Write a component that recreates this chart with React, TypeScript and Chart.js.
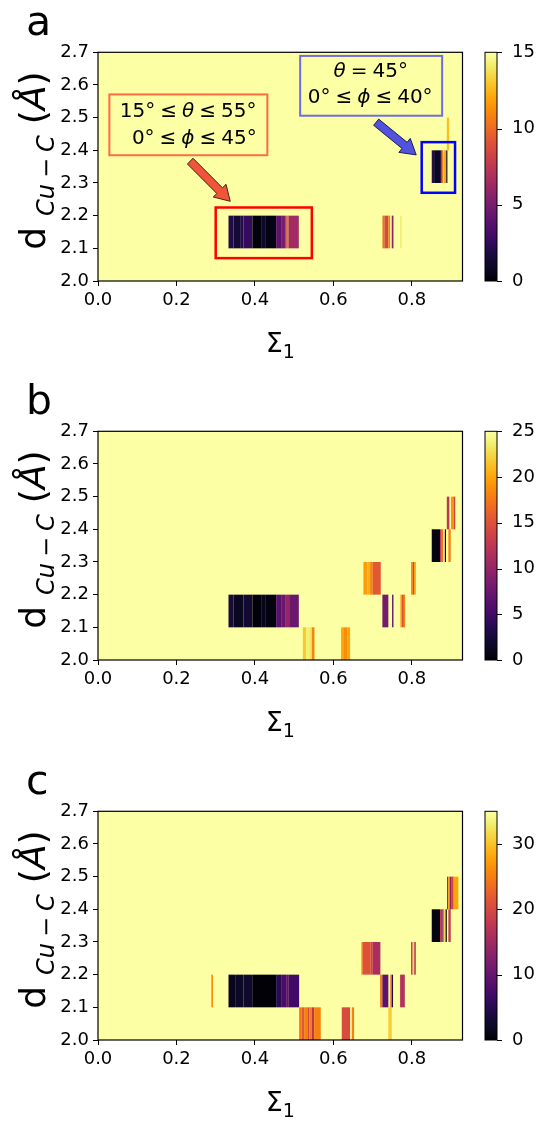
import React, { useEffect, useRef } from "react";
import { Chart, registerables } from "chart.js";
Chart.register(...registerables);

const FONT = '"DejaVu Sans", sans-serif';

// axes
const X_TICKS = [0, 0.2, 0.4, 0.6, 0.8];
const Y_TICKS = [2.0, 2.1, 2.2, 2.3, 2.4, 2.5, 2.6, 2.7];
const X_MIN = 0;
const X_MAX = 0.929;
const Y_MIN = 2.0;
const Y_MAX = 2.7;
const ROW_H = 0.1;

// heat-map cells: [x start, x end, row start (d Cu-C), value]
type Cell = [number, number, number, number];

const CELLS_A: Cell[] = [
  [0.3326, 0.3453, 2.1, 2.0], [0.3453, 0.3623, 2.1, 1.4], [0.3623, 0.3708, 2.1, 2.1],
  [0.3708, 0.3937, 2.1, 2.6], [0.3937, 0.4176, 2.1, 0.2], [0.4176, 0.426, 2.1, 1.0],
  [0.426, 0.454, 2.1, 0.4], [0.454, 0.4685, 2.1, 4.0], [0.4685, 0.477, 2.1, 5.1],
  [0.477, 0.481, 2.1, 6.9], [0.481, 0.4854, 2.1, 10.4], [0.4854, 0.5118, 2.1, 6.5],
  [0.725, 0.73, 2.1, 10.2], [0.73, 0.74, 2.1, 8.6], [0.74, 0.7445, 2.1, 10.8],
  [0.7487, 0.753, 2.1, 5.7], [0.77, 0.774, 2.1, 14.2],
  [0.8506, 0.8566, 2.3, 2.2], [0.8566, 0.8718, 2.3, 0.8], [0.8718, 0.876, 2.3, 1.8],
  [0.876, 0.88, 2.3, 10.5], [0.88, 0.882, 2.3, 13.5], [0.882, 0.887, 2.3, 12.0],
  [0.8875, 0.8905, 2.3, 0.8],
  [0.889, 0.895, 2.4, 12.8],
];
const CB_MAX_A = 15;
const CB_TICKS_A = [0, 5, 10, 15];

const CELLS_B: Cell[] = [
  [0.522, 0.5305, 2.0, 21.8], [0.5305, 0.539, 2.0, 23.8], [0.539, 0.545, 2.0, 23.2],
  [0.545, 0.5517, 2.0, 18.2], [0.6196, 0.627, 2.0, 20.0], [0.627, 0.635, 2.0, 18.8],
  [0.635, 0.6425, 2.0, 20.0],
  [0.3326, 0.3453, 2.1, 2.5], [0.3453, 0.3708, 2.1, 1.2], [0.3708, 0.3937, 2.1, 2.2],
  [0.3937, 0.4176, 2.1, 0.2], [0.4176, 0.426, 2.1, 1.0], [0.426, 0.454, 2.1, 0.5],
  [0.454, 0.4685, 2.1, 6.5], [0.4685, 0.4787, 2.1, 7.5], [0.4787, 0.4871, 2.1, 10.2],
  [0.4871, 0.5118, 2.1, 7.5], [0.7248, 0.74, 2.1, 8.2], [0.7496, 0.753, 2.1, 6.0],
  [0.7707, 0.7745, 2.1, 19.5], [0.7745, 0.7795, 2.1, 15.0], [0.7795, 0.7827, 2.1, 18.0],
  [0.6765, 0.6866, 2.2, 19.5], [0.6866, 0.6935, 2.2, 20.5], [0.6935, 0.7003, 2.2, 18.0],
  [0.7003, 0.7207, 2.2, 15.5], [0.798, 0.8023, 2.2, 18.0], [0.8023, 0.8056, 2.2, 13.8],
  [0.8056, 0.81, 2.2, 19.5],
  [0.8506, 0.8718, 2.3, 0.5], [0.8718, 0.876, 2.3, 12.5], [0.876, 0.88, 2.3, 17.0],
  [0.88, 0.884, 2.3, 23.8], [0.884, 0.887, 2.3, 1.2], [0.893, 0.899, 2.3, 18.0],
  [0.889, 0.8955, 2.4, 12.5], [0.8997, 0.9065, 2.4, 19.2], [0.9065, 0.9105, 2.4, 13.8],
];
const CB_MAX_B = 25;
const CB_TICKS_B = [0, 5, 10, 15, 20, 25];

const CELLS_C: Cell[] = [
  [0.5126, 0.5194, 2.0, 24.5], [0.5194, 0.5253, 2.0, 21.7], [0.5253, 0.5338, 2.0, 25.2],
  [0.5338, 0.539, 2.0, 20.0], [0.539, 0.5449, 2.0, 24.5], [0.5449, 0.5508, 2.0, 17.5],
  [0.5508, 0.5678, 2.0, 25.2], [0.6213, 0.6425, 2.0, 20.3], [0.6468, 0.6527, 2.0, 25.2],
  [0.74, 0.7487, 2.0, 30.8],
  [0.2889, 0.2931, 2.1, 26.2], [0.3326, 0.3496, 2.1, 1.4], [0.3496, 0.3708, 2.1, 2.1],
  [0.3708, 0.3946, 2.1, 2.5], [0.3946, 0.454, 2.1, 0.2], [0.454, 0.4685, 2.1, 5.2],
  [0.4685, 0.4795, 2.1, 7.7], [0.4795, 0.4863, 2.1, 9.8], [0.4863, 0.5126, 2.1, 7.0],
  [0.719, 0.7248, 2.1, 24.5], [0.7248, 0.74, 2.1, 9.5], [0.745, 0.7487, 2.1, 23.8],
  [0.7487, 0.752, 2.1, 4.2], [0.77, 0.782, 2.1, 16.5],
  [0.6714, 0.6748, 2.2, 24.5], [0.6748, 0.6952, 2.2, 21.0], [0.6952, 0.7003, 2.2, 19.2],
  [0.7003, 0.7197, 2.2, 15.8], [0.798, 0.802, 2.2, 17.5], [0.802, 0.806, 2.2, 31.5],
  [0.806, 0.81, 2.2, 17.5],
  [0.8506, 0.8718, 2.3, 0.7], [0.8718, 0.8777, 2.3, 17.5], [0.8777, 0.881, 2.3, 10.5],
  [0.881, 0.886, 2.3, 31.5], [0.886, 0.889, 2.3, 0.0], [0.893, 0.899, 2.3, 18.2],
  [0.8897, 0.8925, 2.4, 12.2], [0.8925, 0.8962, 2.4, 27.3], [0.8962, 0.9015, 2.4, 13.3],
  [0.9015, 0.9065, 2.4, 19.2], [0.9065, 0.9185, 2.4, 28.0],
];
const CB_MAX_C = 35;
const CB_TICKS_C = [0, 10, 20, 30];

// panel (a) annotations, data coordinates
const RECT_RED = [0.30, 2.07, 0.545, 2.225];
const RECT_BLUE = [0.825, 2.27, 0.91, 2.425];
const ARROW_RED = [0.235, 2.367, 0.337, 2.244];
const ARROW_BLUE = [0.709, 2.486, 0.811, 2.386];
const NOTE_RED_AT = [0.2303, 2.478];
const NOTE_BLUE_AT = [0.6962, 2.5974];

// inferno colormap
const INFERNO: number[][] = [
  [0, 0, 4], [10, 7, 34], [22, 11, 57], [40, 11, 84], [66, 10, 104], [86, 15, 109],
  [106, 23, 110], [126, 31, 108], [147, 38, 103], [168, 46, 95], [188, 55, 84],
  [206, 68, 70], [221, 81, 58], [234, 99, 42], [243, 120, 25], [249, 142, 9],
  [252, 165, 10], [250, 190, 36], [246, 215, 70], [242, 240, 116], [252, 255, 164],
];
function inferno(t: number): string {
  const c = Math.max(0, Math.min(1, t)) * (INFERNO.length - 1);
  const i = Math.min(INFERNO.length - 2, Math.floor(c));
  const f = c - i;
  const a = INFERNO[i], b = INFERNO[i + 1];
  const m = (k: number) => Math.round(a[k] + (b[k] - a[k]) * f);
  return `rgb(${m(0)},${m(1)},${m(2)})`;
}

type Run = { t?: string; gap?: number; size: number; italic?: boolean; dy?: number };
const fontOf = (r: Run) => `${r.italic ? "italic " : ""}${r.size}px ${FONT}`;
function runW(ctx: CanvasRenderingContext2D, r: Run) {
  if (r.gap) return r.gap;
  ctx.font = fontOf(r);
  return ctx.measureText(r.t || "").width;
}
function drawRuns(ctx: CanvasRenderingContext2D, runs: Run[], x: number, y: number, align: string) {
  const total = runs.reduce((s, r) => s + runW(ctx, r), 0);
  let cx = align === "center" ? x - total / 2 : align === "right" ? x - total : x;
  ctx.textAlign = "left";
  ctx.textBaseline = "alphabetic";
  for (const r of runs) {
    const w = runW(ctx, r);
    if (r.t) {
      ctx.font = fontOf(r);
      ctx.fillText(r.t, cx, y + (r.dy || 0));
    }
    cx += w;
  }
}

const MS = 20;
const G = 5;
const LINE_RED_1: Run[] = [
  { t: "15°", size: MS }, { gap: G, size: MS }, { t: "≤", size: MS }, { gap: G, size: MS },
  { t: "θ", size: MS, italic: true }, { gap: G, size: MS }, { t: "≤", size: MS }, { gap: G, size: MS },
  { t: "55°", size: MS },
];
const LINE_RED_2: Run[] = [
  { t: "0°", size: MS }, { gap: G, size: MS }, { t: "≤", size: MS }, { gap: G, size: MS },
  { t: "ϕ", size: MS, italic: true }, { gap: G, size: MS }, { t: "≤", size: MS }, { gap: G, size: MS },
  { t: "45°", size: MS },
];
const LINE_BLUE_1: Run[] = [
  { t: "θ", size: MS, italic: true }, { gap: G, size: MS }, { t: "=", size: MS }, { gap: G, size: MS },
  { t: "45°", size: MS },
];
const LINE_BLUE_2: Run[] = [
  { t: "0°", size: MS }, { gap: G, size: MS }, { t: "≤", size: MS }, { gap: G, size: MS },
  { t: "ϕ", size: MS, italic: true }, { gap: G, size: MS }, { t: "≤", size: MS }, { gap: G, size: MS },
  { t: "40°", size: MS },
];

const YF = 36;
const YS = 24;
const Y_LABEL: Run[] = [
  { t: "d", size: YF }, { gap: 11, size: YF },
  { t: "Cu", size: YS, italic: true, dy: 9 }, { gap: 6, size: YS },
  { t: "−", size: YS, dy: 9 }, { gap: 6, size: YS },
  { t: "C", size: YS, italic: true, dy: 9 }, { gap: 11, size: YF },
  { t: "(", size: YF }, { t: "Å", size: YF, italic: true }, { t: ")", size: YF },
];
const X_LABEL: Run[] = [{ t: "Σ", size: 27 }, { t: "1", size: 19, dy: 6 }];

function drawArrow(ctx: CanvasRenderingContext2D, x0: number, y0: number, x1: number, y1: number, fill: string, edge: string) {
  const dx = x1 - x0, dy = y1 - y0;
  const L = Math.hypot(dx, dy);
  const ux = dx / L, uy = dy / L;
  const nx = -uy, ny = ux;
  const w = 4, hw = 9, hl = 15;
  const bx = x1 - ux * hl, by = y1 - uy * hl;
  ctx.beginPath();
  ctx.moveTo(x0 + nx * w, y0 + ny * w);
  ctx.lineTo(bx + nx * w, by + ny * w);
  ctx.lineTo(bx + nx * hw, by + ny * hw);
  ctx.lineTo(x1, y1);
  ctx.lineTo(bx - nx * hw, by - ny * hw);
  ctx.lineTo(bx - nx * w, by - ny * w);
  ctx.lineTo(x0 - nx * w, y0 - ny * w);
  ctx.closePath();
  ctx.fillStyle = fill;
  ctx.fill();
  ctx.strokeStyle = edge;
  ctx.lineWidth = 1;
  ctx.stroke();
}

type PanelCfg = {
  cells: Cell[];
  cbMax: number;
  cbTicks: number[];
  letter: string;
  notes: boolean;
  height: number;
  top: number;
};

function makePlugin(cfg: PanelCfg) {
  return {
    id: "heat",
    beforeDatasetsDraw(chart: any) {
      const { ctx, chartArea: a } = chart;
      const x = chart.scales.x, y = chart.scales.y;
      ctx.save();
      ctx.fillStyle = inferno(1);
      ctx.fillRect(a.left, a.top, a.right - a.left, a.bottom - a.top);
      for (const [x0, x1, r, v] of cfg.cells) {
        const px0 = x.getPixelForValue(x0), px1 = x.getPixelForValue(x1);
        const py0 = y.getPixelForValue(r + ROW_H), py1 = y.getPixelForValue(r);
        ctx.fillStyle = inferno(v / cfg.cbMax);
        ctx.fillRect(px0, py0, px1 - px0, py1 - py0);
      }
      ctx.restore();
    },
    afterDraw(chart: any) {
      const { ctx, chartArea: a } = chart;
      const x = chart.scales.x, y = chart.scales.y, cb = chart.scales.cb;
      ctx.save();
      // spines
      ctx.strokeStyle = "#000";
      ctx.lineWidth = 1.2;
      ctx.strokeRect(a.left, a.top, a.right - a.left, a.bottom - a.top);

      // colorbar
      const cbL = a.right + 22.5, cbW = 12;
      const cTop = cb.getPixelForValue(cfg.cbMax), cBot = cb.getPixelForValue(0);
      const grad = ctx.createLinearGradient(0, cBot, 0, cTop);
      for (let i = 0; i <= 40; i++) grad.addColorStop(i / 40, inferno(i / 40));
      ctx.fillStyle = grad;
      ctx.fillRect(cbL, cTop, cbW, cBot - cTop);
      ctx.lineWidth = 1;
      ctx.strokeRect(cbL, cTop, cbW, cBot - cTop);
      for (const t of cfg.cbTicks) {
        const py = Math.round(cb.getPixelForValue(t)) + 0.5;
        ctx.beginPath();
        ctx.moveTo(cbL + cbW, py);
        ctx.lineTo(cbL + cbW + 5, py);
        ctx.stroke();
      }

      if (cfg.notes) {
        const P = (vx: number, vy: number) => [x.getPixelForValue(vx), y.getPixelForValue(vy)];
        // highlight rectangles
        ctx.lineWidth = 2.5;
        let p0 = P(RECT_RED[0], RECT_RED[1]), p1 = P(RECT_RED[2], RECT_RED[3]);
        ctx.strokeStyle = "#ff0000";
        ctx.strokeRect(p0[0], p1[1], p1[0] - p0[0], p0[1] - p1[1]);
        p0 = P(RECT_BLUE[0], RECT_BLUE[1]); p1 = P(RECT_BLUE[2], RECT_BLUE[3]);
        ctx.strokeStyle = "#0000ff";
        ctx.strokeRect(p0[0], p1[1], p1[0] - p0[0], p0[1] - p1[1]);
        // arrows
        let t0 = P(ARROW_RED[0], ARROW_RED[1]), t1 = P(ARROW_RED[2], ARROW_RED[3]);
        drawArrow(ctx, t0[0], t0[1], t1[0], t1[1], "#f0553a", "#4a2018");
        t0 = P(ARROW_BLUE[0], ARROW_BLUE[1]); t1 = P(ARROW_BLUE[2], ARROW_BLUE[3]);
        drawArrow(ctx, t0[0], t0[1], t1[0], t1[1], "#5252e0", "#1c1c50");
        // text boxes
        let c = P(NOTE_RED_AT[0], NOTE_RED_AT[1]);
        ctx.lineWidth = 2;
        ctx.strokeStyle = "#ff6a48";
        ctx.strokeRect(c[0] - 79, c[1] - 30.4, 158, 60.8);
        ctx.fillStyle = "#000";
        drawRuns(ctx, LINE_RED_1, c[0] - 0.3, c[1] - 7.7, "center");
        drawRuns(ctx, LINE_RED_2, c[0] + 68.4, c[1] + 19.6, "right");
        c = P(NOTE_BLUE_AT[0], NOTE_BLUE_AT[1]);
        ctx.strokeStyle = "#6e6ee0";
        ctx.strokeRect(c[0] - 71, c[1] - 29.9, 142, 59.8);
        drawRuns(ctx, LINE_BLUE_1, c[0] - 0.5, c[1] - 8.9, "center");
        drawRuns(ctx, LINE_BLUE_2, c[0] - 1, c[1] + 16.8, "center");
      }

      // axis titles
      ctx.fillStyle = "#000";
      ctx.save();
      ctx.translate(45, (a.top + a.bottom) / 2 - 6);
      ctx.rotate(-Math.PI / 2);
      drawRuns(ctx, Y_LABEL, 0, 0, "center");
      ctx.restore();
      drawRuns(ctx, X_LABEL, (a.left + a.right) / 2, 352, "center");

      // panel letter
      ctx.font = `41px ${FONT}`;
      ctx.textAlign = "left";
      ctx.textBaseline = "alphabetic";
      ctx.fillText(cfg.letter, 26, 35);
      ctx.restore();
    },
  };
}

function Panel({ cfg }: { cfg: PanelCfg }) {
  const ref = useRef<HTMLCanvasElement>(null);
  useEffect(() => {
    const canvas = ref.current as HTMLCanvasElement;
    const tickFont = { family: FONT, size: 18 };
    const chart = new Chart(canvas, {
      type: "scatter",
      data: { datasets: [] },
      options: {
        responsive: false,
        animation: false,
        devicePixelRatio: 1,
        events: [],
        layout: { padding: { top: 43, left: 0, right: 0, bottom: 0 } },
        plugins: { legend: { display: false }, tooltip: { enabled: false } },
        scales: {
          x: {
            type: "linear",
            position: "bottom",
            min: X_MIN,
            max: X_MAX,
            afterBuildTicks: (s: any) => { s.ticks = X_TICKS.map((v) => ({ value: v })); },
            afterFit: (s: any) => { s.height = cfg.height - 281; },
            grid: { display: true, drawOnChartArea: false, drawTicks: true, tickLength: 5, color: "#000", lineWidth: 1 },
            border: { display: false },
            ticks: {
              color: "#000", font: tickFont, padding: 4, maxRotation: 0, autoSkip: false,
              callback: (v: any) => Number(v).toFixed(1),
            },
          },
          y: {
            type: "linear",
            position: "left",
            min: Y_MIN,
            max: Y_MAX,
            afterBuildTicks: (s: any) => { s.ticks = Y_TICKS.map((v) => ({ value: v })); },
            afterFit: (s: any) => { s.width = 98; },
            grid: { display: true, drawOnChartArea: false, drawTicks: true, tickLength: 5, color: "#000", lineWidth: 1 },
            border: { display: false },
            ticks: {
              color: "#000", font: tickFont, padding: 4, autoSkip: false,
              callback: (v: any) => Number(v).toFixed(1),
            },
          },
          cb: {
            type: "linear",
            axis: "y",
            position: "right",
            min: 0,
            max: cfg.cbMax,
            afterBuildTicks: (s: any) => { s.ticks = cfg.cbTicks.map((v) => ({ value: v })); },
            afterFit: (s: any) => { s.width = 75.5; },
            grid: { display: false, drawOnChartArea: false },
            border: { display: false },
            ticks: { color: "#000", font: tickFont, padding: 41.5, autoSkip: false, callback: (v: any) => String(v) },
          },
        },
      } as any,
      plugins: [makePlugin(cfg)],
    });
    return () => chart.destroy();
  }, []);
  return (
    <canvas
      ref={ref}
      width={538}
      height={cfg.height}
      style={{ position: "absolute", left: 0, top: cfg.top, width: 538, height: cfg.height, display: "block" }}
    />
  );
}

const PANELS: PanelCfg[] = [
  { cells: CELLS_A, cbMax: CB_MAX_A, cbTicks: CB_TICKS_A, letter: "a", notes: true, top: 0, height: 379 },
  { cells: CELLS_B, cbMax: CB_MAX_B, cbTicks: CB_TICKS_B, letter: "b", notes: false, top: 379, height: 380 },
  { cells: CELLS_C, cbMax: CB_MAX_C, cbTicks: CB_TICKS_C, letter: "c", notes: false, top: 759, height: 363 },
];

export default function App() {
  return (
    <div style={{ position: "absolute", left: 0, top: 0, width: 538, height: 1122, overflow: "hidden", background: "#fff" }}>
      {PANELS.map((p) => (
        <Panel key={p.letter} cfg={p} />
      ))}
    </div>
  );
}
